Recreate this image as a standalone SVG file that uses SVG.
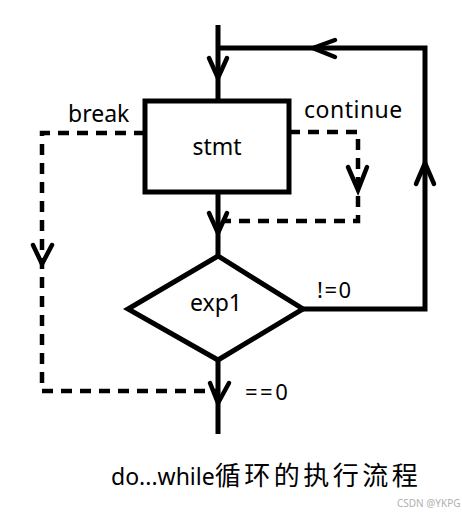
<svg xmlns="http://www.w3.org/2000/svg" width="462" height="516" viewBox="0 0 462 516">
<style>
.s{fill:none;stroke:#000;stroke-width:5;stroke-linecap:butt;stroke-linejoin:miter}
.d{fill:none;stroke:#000;stroke-width:4.5;stroke-dasharray:11 8}
.a{fill:none;stroke:#000;stroke-width:4.5;stroke-linecap:round;stroke-linejoin:miter}
text{font-family:"Noto Sans","Noto Sans CJK SC",sans-serif;fill:#000}
.l{font-size:22px}
</style>
<rect width="462" height="516" fill="#fff"/>
<g id="connectors">
<path class="s" d="M218,25V101M218,192V256M218,360V434"/>
<path class="s" d="M218,48H425V309H303"/>
<path class="d" d="M145,133H42V391H216"/>
<path class="d" d="M289,132H358V221H222"/>
<path class="a" d="M209,58L218,78L227,58"/>
<path class="a" d="M335,40L313,48L335,57"/>
<path class="a" d="M209,213L218,233L227,213"/>
<path class="a" d="M348,167L358,190L367,167"/>
<path class="a" d="M33,245L42,264L52,245"/>
<path class="a" d="M416,184L425,163L434,184"/>
<path class="a" d="M210,383L218,403L229,383"/>
</g>
<g id="stmt">
<rect x="145" y="101" width="144" height="91" fill="#fff" stroke="#000" stroke-width="5"/>
<text class="l" x="217" y="155" text-anchor="middle" style="font-size:23px">stmt</text>
</g>
<g id="exp1">
<path d="M218,256L303,309L218,360L128,309Z" fill="#fff" stroke="#000" stroke-width="5" stroke-linejoin="miter"/>
<text class="l" x="216" y="311" text-anchor="middle" style="font-size:23px">exp1</text>
</g>
<g id="labels">
<text class="l" x="68" y="122" style="font-size:23px">break</text>
<text class="l" x="304" y="118" style="font-size:23px;letter-spacing:0.5px">continue</text>
<text class="l" x="317" y="298" style="letter-spacing:1.5px">!=0</text>
<text class="l" x="245" y="400" style="letter-spacing:2.5px">==0</text>
</g>
<g id="title">
<text x="111" y="485" style="font-size:23px">do...while<tspan style="font-size:26px;letter-spacing:3.5px">循环的执行流程</tspan></text>
<text x="397" y="507" style="font-size:10px;fill:#b0b0b0">CSDN @YKPG</text>
</g>
</svg>
